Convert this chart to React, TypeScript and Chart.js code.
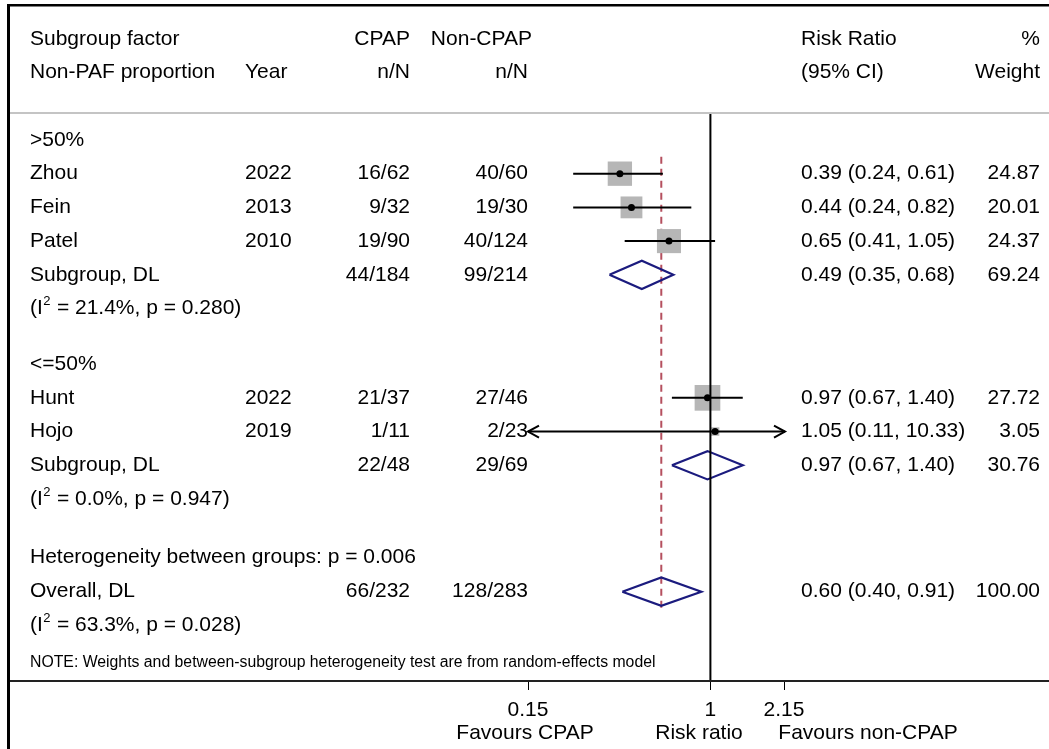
import React, { useEffect, useRef } from 'react';
import { Chart, registerables } from 'chart.js';
Chart.register(...registerables);

// ---- data ----
const studies = ['Zhou', 'Fein', 'Patel', 'Hunt', 'Hojo'];
const years = ['2022', '2013', '2010', '2022', '2019'];
const cpapN = ['16/62', '9/32', '19/90', '21/37', '1/11'];
const nonCpapN = ['40/60', '19/30', '40/124', '27/46', '2/23'];
const rr = [0.39, 0.44, 0.65, 0.97, 1.05];
const ciLow = [0.24, 0.24, 0.41, 0.67, 0.11];
const ciHigh = [0.61, 0.82, 1.05, 1.4, 10.33];
const weights = [24.87, 20.01, 24.37, 27.72, 3.05];
const studyRows = [1.8, 2.8, 3.8, 8.45, 9.45];

const pooledLabels = ['Subgroup, DL', 'Subgroup, DL', 'Overall, DL'];
const pooledCpap = ['44/184', '22/48', '66/232'];
const pooledNon = ['99/214', '29/69', '128/283'];
const pooledRR = [0.49, 0.97, 0.6];
const pooledLow = [0.35, 0.67, 0.4];
const pooledHigh = [0.68, 1.4, 0.91];
const pooledWeight = [69.24, 30.76, 100.0];
const pooledRows = [4.8, 10.45, 14.2];

const hetI2 = ['21.4%', '0.0%', '63.3%'];
const hetP = ['0.280', '0.947', '0.028'];
const hetRows = [5.8, 11.45, 15.2];

const groupLabels = ['>50%', '<=50%'];
const groupRows = [0.8, 7.45];

const betweenText = 'Heterogeneity between groups: p = 0.006';
const betweenRow = 13.18;
const noteText = 'NOTE: Weights and between-subgroup heterogeneity test are from random-effects model';
const noteRow = 16.3;

const headerRows = [-2.2, -1.22];
const xTicks = [0.15, 1, 2.15];
const X_MIN = 0.15;
const X_MAX = 2.15;
const Y_MAX = 16.85;
const overallRR = pooledRR[2];

const FONT = '"Liberation Sans", Arial, Helvetica, sans-serif';
const NAVY = '#1b1b7e';

const fmtCI = (e: number, l: number, h: number) =>
  `${e.toFixed(2)} (${l.toFixed(2)}, ${h.toFixed(2)})`;

const DIAMOND_H = 0.42;

function diamond(e: number, l: number, h: number, y: number) {
  return [
    { x: l, y },
    { x: e, y: y - DIAMOND_H },
    { x: h, y },
    { x: e, y: y + DIAMOND_H },
    { x: l, y },
  ];
}

const textPlugin = {
  id: 'forestText',
  afterDraw(chart: any) {
    const ctx = chart.ctx as CanvasRenderingContext2D;
    const ys = chart.scales.y;
    const xs = chart.scales.x;
    const W = chart.width;
    const H = chart.height;
    const py = (v: number) => ys.getPixelForValue(v);
    ctx.save();
    // frame
    ctx.fillStyle = '#000';
    ctx.fillRect(7, 4, 3, H);
    ctx.fillRect(7, 4, W, 2.5);
    // header separator
    ctx.fillStyle = '#c4c4c4';
    ctx.fillRect(10, chart.chartArea.top - 1, W, 2);
    // axis line
    ctx.fillStyle = '#222';
    ctx.fillRect(10, chart.chartArea.bottom - 1, W, 2);

    const text = (s: string, x: number, y: number, align: CanvasTextAlign, size = 21) => {
      ctx.font = `${size}px ${FONT}`;
      ctx.textAlign = align;
      ctx.textBaseline = 'middle';
      ctx.fillStyle = '#000';
      ctx.fillText(s, x, y);
    };
    const C1 = 30, CY = 245, CC = 410, CN = 528, CR = 801, CW = 1040;

    // headers
    text('Subgroup factor', C1, py(headerRows[0]), 'left');
    text('CPAP', CC, py(headerRows[0]), 'right');
    text('Non-CPAP', CN + 4, py(headerRows[0]), 'right');
    text('Risk Ratio', CR, py(headerRows[0]), 'left');
    text('%', CW, py(headerRows[0]), 'right');
    text('Non-PAF proportion', C1, py(headerRows[1]), 'left');
    text('Year', CY, py(headerRows[1]), 'left');
    text('n/N', CC, py(headerRows[1]), 'right');
    text('n/N', CN, py(headerRows[1]), 'right');
    text('(95% CI)', CR, py(headerRows[1]), 'left');
    text('Weight', CW, py(headerRows[1]), 'right');

    groupLabels.forEach((g, i) => text(g, C1, py(groupRows[i]), 'left'));

    studies.forEach((s, i) => {
      const y = py(studyRows[i]);
      text(s, C1, y, 'left');
      text(years[i], CY, y, 'left');
      text(cpapN[i], CC, y, 'right');
      text(nonCpapN[i], CN, y, 'right');
      text(fmtCI(rr[i], ciLow[i], ciHigh[i]), CR, y, 'left');
      text(weights[i].toFixed(2), CW, y, 'right');
    });

    pooledLabels.forEach((s, i) => {
      const y = py(pooledRows[i]);
      text(s, C1, y, 'left');
      text(pooledCpap[i], CC, y, 'right');
      text(pooledNon[i], CN, y, 'right');
      text(fmtCI(pooledRR[i], pooledLow[i], pooledHigh[i]), CR, y, 'left');
      text(pooledWeight[i].toFixed(2), CW, y, 'right');
    });

    hetRows.forEach((r, i) => {
      const y = py(r);
      ctx.font = `21px ${FONT}`;
      ctx.textAlign = 'left';
      ctx.textBaseline = 'middle';
      let x = C1;
      ctx.fillText('(I', x, y);
      x += ctx.measureText('(I').width + 0.5;
      ctx.font = `13px ${FONT}`;
      ctx.fillText('2', x, y - 7);
      x += ctx.measureText('2').width + 0.5;
      ctx.font = `21px ${FONT}`;
      ctx.fillText(` = ${hetI2[i]}, p = ${hetP[i]})`, x, y);
    });

    text(betweenText, C1, py(betweenRow), 'left');
    text(noteText, C1, py(noteRow), 'left', 15.8);

    // x axis titles
    const by = 733;
    text('Favours CPAP', 525, by, 'center');
    text('Risk ratio', 699, by, 'center');
    text('Favours non-CPAP', 868, by, 'center');

    // arrows for clipped CIs
    ctx.strokeStyle = '#000';
    ctx.lineWidth = 2;
    studies.forEach((_, i) => {
      const y = py(studyRows[i]);
      if (ciLow[i] < X_MIN) {
        const tx = xs.getPixelForValue(X_MIN);
        ctx.beginPath();
        ctx.moveTo(tx + 11, y - 6);
        ctx.lineTo(tx, y);
        ctx.lineTo(tx + 11, y + 6);
        ctx.stroke();
      }
      if (ciHigh[i] > X_MAX) {
        const tx = xs.getPixelForValue(X_MAX) + 1;
        ctx.beginPath();
        ctx.moveTo(tx - 11, y - 6);
        ctx.lineTo(tx, y);
        ctx.lineTo(tx - 11, y + 6);
        ctx.stroke();
        ctx.beginPath();
        ctx.moveTo(tx - 3, y);
        ctx.lineTo(tx, y);
        ctx.stroke();
      }
    });
    ctx.restore();
  },
};

export default function App() {
  const ref = useRef<HTMLCanvasElement>(null);
  useEffect(() => {
    if (!ref.current) return;
    const datasets: any[] = [];
    // dots
    datasets.push({
      data: studies.map((_, i) => ({ x: rr[i], y: studyRows[i] })),
      pointStyle: 'circle',
      pointRadius: 3.5,
      backgroundColor: '#000',
      borderWidth: 0,
      order: 0,
    });
    // CI lines
    studies.forEach((_, i) => {
      datasets.push({
        data: [
          { x: Math.max(ciLow[i], X_MIN), y: studyRows[i] },
          { x: Math.min(ciHigh[i], X_MAX), y: studyRows[i] },
        ],
        showLine: true,
        borderColor: '#000',
        borderWidth: 2,
        pointRadius: 0,
        order: 1,
        clip: 4,
      });
    });
    // reference line at 1
    datasets.push({
      data: [
        { x: 1, y: 0 },
        { x: 1, y: Y_MAX },
      ],
      showLine: true,
      borderColor: '#000',
      borderWidth: 2,
      pointRadius: 0,
      order: 1,
    });
    // diamonds
    pooledRR.forEach((e, i) => {
      datasets.push({
        data: diamond(e, pooledLow[i], pooledHigh[i], pooledRows[i]),
        showLine: true,
        borderColor: NAVY,
        borderWidth: 2.2,
        borderJoinStyle: 'miter',
        pointRadius: 0,
        order: 1,
      });
    });
    // weighted squares
    datasets.push({
      data: studies.map((_, i) => ({ x: rr[i], y: studyRows[i] })),
      pointStyle: 'rect',
      pointRadius: weights.map((w) => 3.45 * Math.sqrt(w)),
      backgroundColor: '#b6b6b6',
      borderWidth: 0,
      order: 2,
      clip: 20,
    });
    // overall dashed line
    datasets.push({
      data: [
        { x: overallRR, y: studyRows[0] - 0.5 },
        { x: overallRR, y: pooledRows[2] + 0.5 },
      ],
      showLine: true,
      borderColor: '#b5505f',
      borderWidth: 2,
      borderDash: [7, 5],
      pointRadius: 0,
      order: 3,
    });

    const chart = new Chart(ref.current, {
      type: 'scatter',
      data: { datasets },
      options: {
        responsive: false,
        animation: false,
        events: [],
        layout: { padding: { left: 528, right: 265, top: 113, bottom: 0 } },
        plugins: { legend: { display: false }, tooltip: { enabled: false } },
        scales: {
          x: {
            type: 'logarithmic',
            min: X_MIN,
            max: X_MAX,
            position: 'bottom',
            afterBuildTicks: (s: any) => {
              s.ticks = xTicks.map((v) => ({ value: v }));
            },
            afterFit: (s: any) => {
              s.height = 68;
            },
            border: { display: false },
            grid: {
              drawOnChartArea: false,
              drawTicks: true,
              tickLength: 9,
              color: '#000',
              lineWidth: 1,
            },
            ticks: {
              autoSkip: false,
              maxRotation: 0,
              padding: 8,
              color: '#000',
              font: { size: 21, family: FONT },
              callback: (v: any) => String(v),
            },
          },
          y: {
            type: 'linear',
            reverse: true,
            min: 0,
            max: Y_MAX,
            display: false,
          },
        },
      },
      plugins: [textPlugin],
    });
    return () => chart.destroy();
  }, []);
  return (
    <div style={{ position: 'fixed', left: 0, top: 0, width: 1049, height: 749, background: '#fff' }}>
      <canvas ref={ref} width={1049} height={749} style={{ display: 'block' }} />
    </div>
  );
}
